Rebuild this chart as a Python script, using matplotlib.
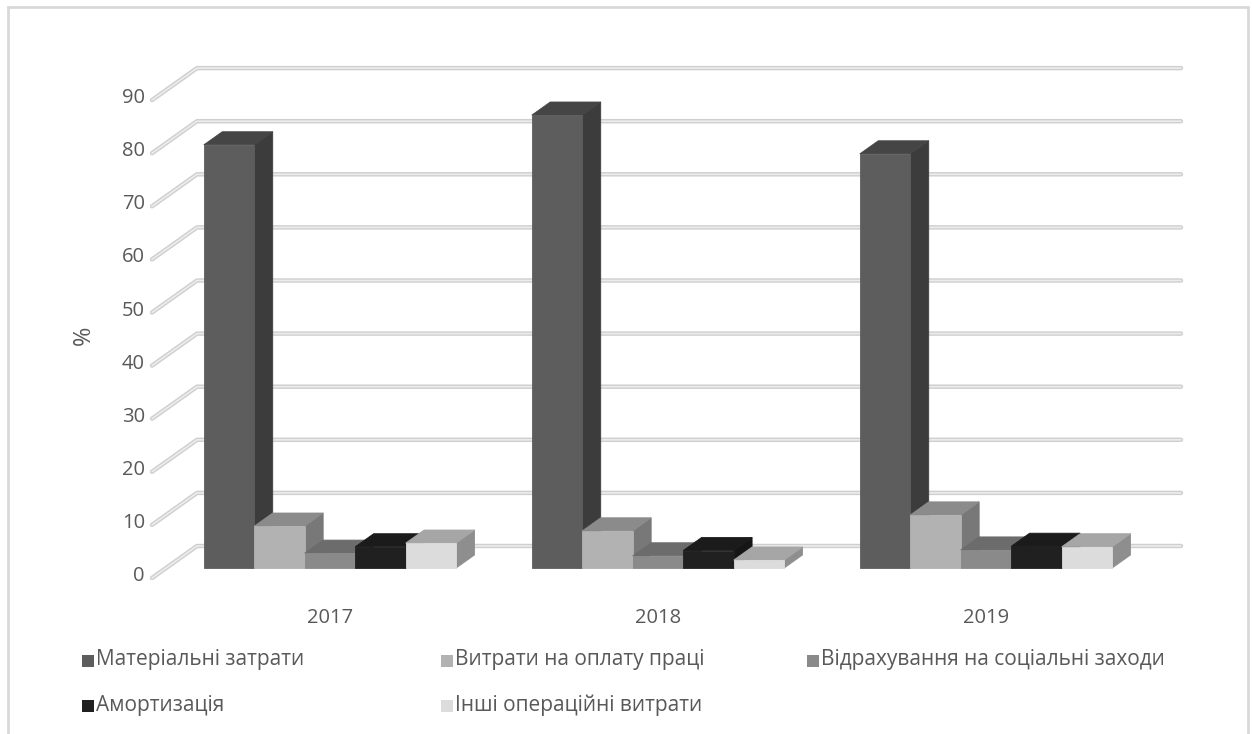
import matplotlib
matplotlib.use("Agg")
import matplotlib.pyplot as plt
from matplotlib.patches import Polygon, Rectangle

plt.rcParams['font.family'] = ['Open Sans', 'DejaVu Sans']

# data: share of operating costs, %
years = ["2017", "2018", "2019"]
series = ["Матеріальні затрати", "Витрати на оплату праці",
          "Відрахування на соціальні заходи", "Амортизація",
          "Інші операційні витрати"]
material = [79.7, 85.3, 78.0]
wages = [7.9, 7.0, 10.0]
social = [2.8, 2.3, 3.4]
amortization = [4.0, 3.3, 4.1]
other = [4.7, 1.5, 4.0]
values = [material, wages, social, amortization, other]
yticks = list(range(0, 100, 10))

# face shades (front, top, side) per series
front_cols = ["#5d5d5d", "#b2b2b2", "#8a8a8a", "#202020", "#dcdcdc"]
top_cols = ["#454545", "#8b8b8b", "#6c6c6c", "#1b1b1b", "#a6a6a6"]
side_cols = ["#3c3c3c", "#787878", "#5e5e5e", "#161616", "#8e8e8e"]

W, H = 1253, 734
fig = plt.figure(figsize=(W / 100, H / 100), dpi=100)

# pixel layout of the plot box (front-left origin, category width, value scale)
X0, Y0 = 152, 578
CAT_PX, VAL_PX = 328, 5.31
DEPTH_X, DEPTH_Y = 45, 32
TOP_PX = 60
RIGHT_PX = X0 + 3 * CAT_PX + DEPTH_X

ax = fig.add_axes([X0 / W, (H - Y0) / H, (RIGHT_PX - X0) / W, (Y0 - TOP_PX) / H])
ax.set_xlim(0, (RIGHT_PX - X0) / CAT_PX)
ax.set_ylim(0, (Y0 - TOP_PX) / VAL_PX)
ax.axis("off")

DX = DEPTH_X / CAT_PX
DY = DEPTH_Y / VAL_PX
FS = 14.5
FS_LEG = 15
TXT = "#595959"


def proj(x, v, z):
    return (x + z * DX, v + z * DY)


# wall gridlines: diagonal on the left wall, horizontal on the back wall
for v in yticks:
    pts = [proj(0, v, 0), proj(0, v, 1), proj(len(years), v, 1)]
    xs, ys = zip(*pts)
    ax.plot(xs, ys, color="#cfcfcf", lw=3.2, solid_capstyle="round",
            solid_joinstyle="round", clip_on=False, zorder=1)
    ax.plot(xs, ys, color="#ececec", lw=1.2, solid_capstyle="round",
            solid_joinstyle="round", clip_on=False, zorder=1)
    fig.text((X0 - 7) / W, 1 - (Y0 - v * VAL_PX - 2) / H, str(v),
             ha="right", va="center", fontsize=FS, color=TXT)

# 3D-looking bars
nser = len(series)
bw = 1 / (nser + 1.5)
zf, zb = 0.31, 0.72
for i in range(len(years)):
    for j in range(nser):
        v = values[j][i]
        xl = i + 0.75 * bw + j * bw
        xr = xl + bw
        side = [proj(xr, 0, zf), proj(xr, 0, zb), proj(xr, v, zb), proj(xr, v, zf)]
        top = [proj(xl, v, zf), proj(xr, v, zf), proj(xr, v, zb), proj(xl, v, zb)]
        front = [proj(xl, 0, zf), proj(xr, 0, zf), proj(xr, v, zf), proj(xl, v, zf)]
        for poly, c in ((side, side_cols[j]), (top, top_cols[j]), (front, front_cols[j])):
            ax.add_patch(Polygon(poly, closed=True, facecolor=c, edgecolor=c,
                                 lw=0.6, zorder=2, clip_on=False))
    cx, _ = proj(i + 0.5, 0, zf)
    ax.text(cx, -7.6, years[i], ha="center", va="center",
            fontsize=FS, color=TXT, clip_on=False)

fig.text(84 / W, 1 - 335 / H, "%", rotation=90, ha="center", va="center",
         fontsize=17, color=TXT)

# legend, row-major like the source layout
leg_pos = [(88, 661), (447, 661), (813, 661), (88, 706), (447, 706)]
for j, (px, py) in enumerate(leg_pos):
    fig.add_artist(Rectangle(((px - 6) / W, 1 - (py + 6) / H), 12 / W, 12 / H,
                             transform=fig.transFigure, facecolor=front_cols[j],
                             edgecolor="none"))
    fig.text((px + 8) / W, 1 - (py - 1) / H, series[j], ha="left", va="center",
             fontsize=FS_LEG, color=TXT)

# chart area border
fig.add_artist(Rectangle((8 / W, -0.05), (1248 - 8) / W, 1.05 - 7 / H,
                         transform=fig.transFigure, fill=False,
                         edgecolor="#d9d9d9", lw=2))

fig.savefig("out.png", dpi=100)
